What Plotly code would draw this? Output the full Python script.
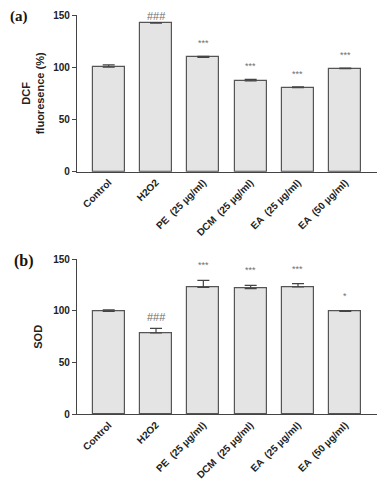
import plotly.graph_objects as go

categories = ["Control", "H2O2", "PE  (25 µg/ml)", "DCM  (25 µg/ml)", "EA  (25 µg/ml)", "EA  (50 µg/ml)"]
dcf_values = [100.0, 142.3, 109.5, 86.8, 80.4, 98.6]
dcf_errors = [2.2, 0.5, 1.0, 1.6, 0.8, 0.6]
dcf_marks = ["", "###", "***", "***", "***", "***"]
sod_values = [99.5, 78.7, 122.9, 121.6, 123.2, 99.7]
sod_errors = [1.6, 4.5, 6.8, 3.2, 3.2, 0.6]
sod_marks = ["", "###", "***", "***", "***", "*"]
y_ticks = [0, 50, 100, 150]

# page body has an 8px default margin; figure is sized to fill the rest of the window
OFF = 8
W, H = 392 - OFF, 490 - OFF
def px_x(v): return (v - OFF) / W
def px_y(v): return 1 - (v - OFF) / H

fig = go.Figure()
xpos = list(range(len(categories)))

bar_style = dict(marker=dict(color="#e4e4e4", line=dict(color="#555555", width=1.2)), width=0.68)

fig.add_trace(go.Bar(x=xpos, y=dcf_values, xaxis="x", yaxis="y",
                     error_y=dict(type="data", array=dcf_errors, arrayminus=[0]*6, symmetric=False,
                                  color="#444444", thickness=1.2, width=6),
                     **bar_style))
fig.add_trace(go.Bar(x=xpos, y=sod_values, xaxis="x2", yaxis="y2",
                     error_y=dict(type="data", array=sod_errors, arrayminus=[0]*6, symmetric=False,
                                  color="#444444", thickness=1.2, width=6),
                     **bar_style))

xcommon = dict(tickmode="array", tickvals=xpos, ticktext=categories, tickangle=-45,
               range=[-0.67, 5.67], showline=True, linecolor="#444444", linewidth=1.2,
               ticks="", showgrid=False, zeroline=False, automargin=False,
               tickfont=dict(family="Liberation Sans, Arial", size=10, color="#222222", weight="bold"))
ycommon = dict(range=[0, 150], tickvals=y_ticks, showline=True, linecolor="#444444", linewidth=1.2,
               ticks="outside", ticklen=4, tickcolor="#444444", showgrid=False, zeroline=False,
               automargin=False,
               tickfont=dict(family="Liberation Sans, Arial", size=10, color="#222222", weight="bold"))

fig.update_layout(
    width=W, height=H, margin=dict(l=0, r=0, t=0, b=0),
    paper_bgcolor="white", plot_bgcolor="white", showlegend=False, bargap=0,
    xaxis=dict(domain=[px_x(77), px_x(377)], anchor="y", **xcommon),
    yaxis=dict(domain=[px_y(171.7), px_y(15)], anchor="x",
               title=dict(text="DCF<br>fluoresence (%)", standoff=6,
                          font=dict(family="Liberation Sans, Arial", size=11, color="#222222", weight="bold")),
               **ycommon),
    xaxis2=dict(domain=[px_x(77), px_x(377)], anchor="y2", **xcommon),
    yaxis2=dict(domain=[px_y(414.3), px_y(259.3)], anchor="x2",
                title=dict(text="SOD", standoff=8,
                           font=dict(family="Liberation Sans, Arial", size=11, color="#222222", weight="bold")),
                **ycommon),
)

annots = []
for i, (v, e, m) in enumerate(zip(dcf_values, dcf_errors, dcf_marks)):
    if m:
        annots.append(dict(x=i, y=v + e, xref="x", yref="y", text=m, showarrow=False,
                           yanchor="bottom", yshift=6 if m.startswith("*") else -1,
                           font=dict(family="Liberation Sans, Arial", size=9 if m.startswith("*") else 11,
                                     color="#6f6f6f")))
for i, (v, e, m) in enumerate(zip(sod_values, sod_errors, sod_marks)):
    if m:
        annots.append(dict(x=i, y=v + e, xref="x2", yref="y2", text=m, showarrow=False,
                           yanchor="bottom", yshift=8 if m.startswith("*") else 3,
                           font=dict(family="Liberation Sans, Arial", size=9 if m.startswith("*") else 11,
                                     color="#6f6f6f")))
annots.append(dict(x=px_x(8), y=px_y(16.5), xref="paper", yref="paper", text="<b>(a)</b>",
                   showarrow=False, xanchor="left", yanchor="middle",
                   font=dict(family="Liberation Serif, Times New Roman", size=15, color="#1a1208")))
annots.append(dict(x=px_x(11.5), y=px_y(261), xref="paper", yref="paper", text="<b>(b)</b>",
                   showarrow=False, xanchor="left", yanchor="middle",
                   font=dict(family="Liberation Serif, Times New Roman", size=16, color="#1a1208")))
fig.update_layout(annotations=annots)

fig.write_html("out.html")
